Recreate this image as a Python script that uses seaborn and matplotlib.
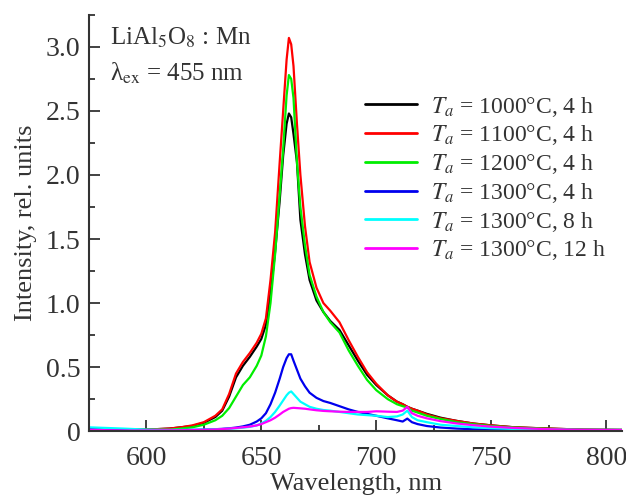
import matplotlib
matplotlib.use("Agg")
import matplotlib.pyplot as plt
import numpy as np
import pandas as pd
import seaborn as sns
from matplotlib.ticker import MultipleLocator, FuncFormatter

# wavelength grid (nm)
wavelength = [575, 590, 600, 610, 615, 620, 625, 630, 633, 636, 639, 642, 645, 648, 650,
              652, 654, 656, 658, 659.5, 661, 662, 663, 664, 665.5, 667, 669, 671, 674,
              677, 680, 684, 688, 692, 696, 700, 705, 709, 711.5, 713.5, 715.5, 718, 722,
              728, 735, 742, 750, 760, 775, 790, 807]

ta1000_4h = [0.01, 0.01, 0.012, 0.02, 0.03, 0.04, 0.065, 0.11, 0.16, 0.27, 0.42, 0.51, 0.58, 0.66, 0.72,
             0.83, 1.08, 1.40, 1.80, 2.15, 2.40, 2.48, 2.45, 2.32, 2.10, 1.65, 1.38, 1.18, 1.02,
             0.93, 0.86, 0.79, 0.67, 0.55, 0.44, 0.36, 0.28, 0.23, 0.21, 0.19, 0.175, 0.16, 0.135,
             0.105, 0.08, 0.06, 0.045, 0.03, 0.02, 0.012, 0.01]
ta1100_4h = [0.01, 0.01, 0.012, 0.02, 0.03, 0.045, 0.07, 0.12, 0.17, 0.29, 0.45, 0.54, 0.61, 0.69, 0.76,
             0.88, 1.18, 1.55, 2.10, 2.50, 2.90, 3.07, 3.02, 2.85, 2.40, 2.00, 1.60, 1.32, 1.12,
             1.00, 0.94, 0.85, 0.71, 0.58, 0.46, 0.37, 0.28, 0.23, 0.21, 0.19, 0.175, 0.16, 0.13,
             0.10, 0.08, 0.06, 0.045, 0.03, 0.02, 0.012, 0.01]
ta1200_4h = [0.01, 0.01, 0.01, 0.01, 0.02, 0.03, 0.05, 0.085, 0.12, 0.18, 0.27, 0.36, 0.42, 0.51, 0.59,
             0.74, 1.00, 1.38, 1.85, 2.20, 2.62, 2.78, 2.75, 2.60, 2.10, 1.75, 1.45, 1.22, 1.05,
             0.93, 0.85, 0.77, 0.63, 0.51, 0.40, 0.32, 0.25, 0.21, 0.195, 0.185, 0.16, 0.145, 0.12,
             0.095, 0.07, 0.055, 0.04, 0.028, 0.018, 0.01, 0.008]
ta1300_4h = [0.015, 0.01, 0.008, 0.008, 0.008, 0.01, 0.012, 0.015, 0.018, 0.022, 0.028, 0.037, 0.05, 0.075, 0.10,
             0.14, 0.21, 0.30, 0.41, 0.50, 0.57, 0.60, 0.60, 0.55, 0.48, 0.41, 0.35, 0.30, 0.26,
             0.235, 0.22, 0.195, 0.17, 0.15, 0.135, 0.12, 0.10, 0.085, 0.075, 0.098, 0.07, 0.055, 0.04,
             0.028, 0.02, 0.015, 0.012, 0.01, 0.008, 0.008, 0.008]
ta1300_8h = [0.03, 0.02, 0.012, 0.01, 0.01, 0.01, 0.012, 0.014, 0.016, 0.019, 0.022, 0.027, 0.033, 0.045, 0.06,
             0.08, 0.11, 0.15, 0.20, 0.24, 0.28, 0.30, 0.31, 0.29, 0.26, 0.23, 0.21, 0.19, 0.175,
             0.165, 0.16, 0.15, 0.14, 0.13, 0.125, 0.12, 0.11, 0.115, 0.13, 0.16, 0.11, 0.085, 0.07,
             0.05, 0.04, 0.03, 0.023, 0.017, 0.012, 0.01, 0.01]
ta1300_12h = [0.01, 0.005, 0.005, 0.006, 0.007, 0.008, 0.01, 0.013, 0.016, 0.02, 0.025, 0.03, 0.036, 0.045, 0.055,
              0.07, 0.085, 0.105, 0.13, 0.15, 0.165, 0.175, 0.18, 0.182, 0.18, 0.178, 0.175, 0.17, 0.163,
              0.158, 0.155, 0.152, 0.15, 0.15, 0.15, 0.155, 0.152, 0.15, 0.16, 0.19, 0.14, 0.12, 0.10,
              0.078, 0.06, 0.047, 0.035, 0.025, 0.015, 0.01, 0.008]

labels = [r"$T_a$ = 1000°C, 4 h", r"$T_a$ = 1100°C, 4 h", r"$T_a$ = 1200°C, 4 h",
          r"$T_a$ = 1300°C, 4 h", r"$T_a$ = 1300°C, 8 h", r"$T_a$ = 1300°C, 12 h"]
series = [ta1000_4h, ta1100_4h, ta1200_4h, ta1300_4h, ta1300_8h, ta1300_12h]
colors = ["#000000", "#ff0000", "#00ee00", "#0000ee", "#00ffff", "#ff00ff"]

rows = []
for lab, vals in zip(labels, series):
    for w, v in zip(wavelength, vals):
        rows.append({"wavelength": w, "intensity": v, "sample": lab})
df = pd.DataFrame(rows)

sns.set_theme(style="ticks")
plt.rcParams["font.family"] = ["Liberation Serif", "DejaVu Serif"]
plt.rcParams["mathtext.fontset"] = "stix"
plt.rcParams["text.color"] = "#333333"
plt.rcParams["axes.labelcolor"] = "#333333"
plt.rcParams["xtick.color"] = "#333333"
plt.rcParams["ytick.color"] = "#333333"

fig = plt.figure(figsize=(6.26, 4.95), dpi=100)
ax = fig.add_axes([0.142, 0.129, 0.852, 0.841])

sns.lineplot(data=df, x="wavelength", y="intensity", hue="sample", palette=colors,
             linewidth=1.6, ax=ax, sort=False)

ax.set_xlim(575, 807)
ax.set_ylim(0, 3.25)
ax.xaxis.set_major_locator(MultipleLocator(50))
ax.xaxis.set_minor_locator(MultipleLocator(25))
ax.yaxis.set_major_locator(MultipleLocator(0.5))
ax.yaxis.set_minor_locator(MultipleLocator(0.25))
ax.yaxis.set_major_formatter(FuncFormatter(lambda v, p: "0" if abs(v) < 1e-9 else f"{v:.1f}"))
ax.tick_params(which="major", direction="in", length=8, width=1.3, labelsize=20)
ax.tick_params(axis="x", which="major", pad=11)
ax.tick_params(axis="y", which="major", pad=6)
ax.tick_params(which="minor", direction="in", length=4.5, width=1.3)
for s in ["top", "right"]:
    ax.spines[s].set_visible(False)
for s in ["left", "bottom"]:
    ax.spines[s].set_linewidth(1.5)
    ax.spines[s].set_color("#333333")

ax.set_xlabel("Wavelength, nm", fontsize=19, labelpad=1)
ax.set_ylabel("Intensity, rel. units", fontsize=19, labelpad=6)

ax.text(0.04, 0.975, r"LiAl$_5$O$_8$ : Mn", transform=ax.transAxes, fontsize=18,
        va="top", ha="left")
ax.text(0.04, 0.89, r"λ$_{\rm ex}$ = 455 nm", transform=ax.transAxes, fontsize=18,
        va="top", ha="left")

leg = ax.legend(loc="upper right", bbox_to_anchor=(1.0, 0.848), frameon=False, fontsize=17,
                handlelength=2.2, handletextpad=0.6, labelspacing=0.2, borderpad=0.2)
for line in leg.get_lines():
    line.set_linewidth(2)

fig.savefig("out.png", dpi=100)
